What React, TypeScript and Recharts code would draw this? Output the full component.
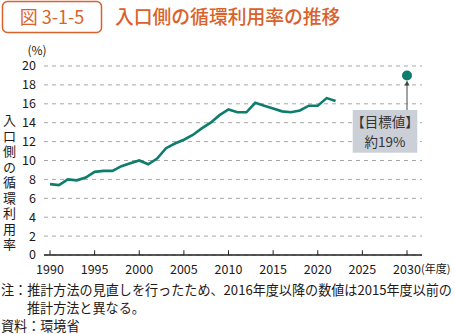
import React from 'react';
import { LineChart, Line, XAxis, YAxis, CartesianGrid, ReferenceLine, ReferenceDot } from 'recharts';

const years = [1990,1991,1992,1993,1994,1995,1996,1997,1998,1999,2000,2001,2002,2003,2004,2005,2006,2007,2008,2009,2010,2011,2012,2013,2014,2015,2016,2017,2018,2019,2020,2021,2022];
const rates = [7.5,7.4,8.0,7.9,8.2,8.8,8.9,8.9,9.4,9.7,10.0,9.6,10.2,11.3,11.8,12.2,12.7,13.4,14.0,14.8,15.4,15.1,15.1,16.1,15.8,15.5,15.2,15.1,15.3,15.8,15.8,16.6,16.3];
const xTicks = [1990,1995,2000,2005,2010,2015,2020,2025,2030];
const yTicks = [0,2,4,6,8,10,12,14,16,18,20];
const targetYears = [2030];
const targetValues = [19];
const yLabel = '入口側の循環利用率';

const data = years.map((y, i) => ({ year: y, rate: rates[i] }));

const FONT = '"Noto Sans CJK JP", "Noto Sans", sans-serif';
const TEXT = '#231815';
const GREEN = '#0e7d6b';
const ORANGE = '#d9622b';

const XTick = (props: any) => {
  const { x, y, payload } = props;
  const v = payload.value;
  return (
    <g>
      <text x={x} y={y} dy="0.71em" textAnchor="middle" fontSize={12.5} fill={TEXT} fontFamily={FONT}>{v}</text>
      {v === 2030 && (
        <text x={x + 14} y={y} dy="0.75em" textAnchor="start" fontSize={11} fill={TEXT} fontFamily={FONT}>(年度)</text>
      )}
    </g>
  );
};

export default function App() {
  return (
    <div style={{ position: 'absolute', left: 0, top: 0, width: 455, height: 334, background: '#fff' }}>
      <LineChart width={455} height={334} data={data} margin={{ top: 66, right: 33, bottom: 49, left: 0 }}>
        <CartesianGrid horizontal vertical={false} stroke="#a8a8a8" strokeDasharray="4 4" />
        <XAxis
          dataKey="year"
          type="number"
          domain={[1990, 2030]}
          ticks={xTicks}
          padding={{ left: 6, right: 15 }}
          axisLine={{ stroke: '#222', strokeWidth: 1.6 }}
          tickLine={false}
          tickMargin={4}
          height={30}
          tick={<XTick />}
          interval={0}
          allowDataOverflow
        />
        <YAxis
          type="number"
          domain={[0, 20]}
          ticks={yTicks}
          width={44}
          axisLine={false}
          tickLine={false}
          tickMargin={2}
          interval={0}
          tick={{ fontSize: 12.5, fill: TEXT, fontFamily: FONT }}
        />
        {xTicks.map((t) => (
          <ReferenceLine key={t} segment={[{ x: t, y: 0 }, { x: t, y: 0.5 }]} stroke="#222" strokeWidth={1} />
        ))}
        <Line dataKey="rate" stroke={GREEN} strokeWidth={2.6} dot={false} isAnimationActive={false} />
        {targetYears.map((t, i) => (
          <ReferenceDot key={t} x={t} y={targetValues[i]} r={5} fill={GREEN} stroke="none" ifOverflow="visible" />
        ))}
      </LineChart>
      <svg width={455} height={334} style={{ position: 'absolute', left: 0, top: 0, pointerEvents: 'none' }} fontFamily={FONT}>
        <rect x={2.5} y={1.5} width={99} height={31} rx={5} ry={5} fill="#fff" stroke={ORANGE} strokeWidth={1.5} />
        <text x={52} y={24} textAnchor="middle" fontSize={18} fill={ORANGE}>図 3-1-5</text>
        <text x={115} y={24} fontSize={18.8} fill={ORANGE} fontWeight={500}>入口側の循環利用率の推移</text>
        <text x={37} y={55} textAnchor="middle" fontSize={12} fill={TEXT}>(%)</text>
        <line x1={407} y1={110} x2={407} y2={84} stroke="#666" strokeWidth={1.2} />
        <polygon points="407,80.5 404.5,85.5 409.5,85.5" fill="#444" />
        <rect x={352.7} y={110} width={64.6} height={42.7} fill="#cbd0d8" />
        <text x={385} y={127} textAnchor="middle" fontSize={13.5} fill="#333">【目標値】</text>
        <text x={385} y={147} textAnchor="middle" fontSize={13.5} fill="#333">約19%</text>
        <text x={9.5} y={114} fontSize={13} letterSpacing={2.5} fill={TEXT} style={{ writingMode: 'vertical-rl', textOrientation: 'upright' } as any}>{yLabel}</text>
        <text x={1} y={295} fontSize={13.1} fill={TEXT}>注：推計方法の見直しを行ったため、2016年度以降の数値は2015年度以前の</text>
        <text x={27} y={313} fontSize={13.1} fill={TEXT}>推計方法と異なる。</text>
        <text x={1} y={331} fontSize={13.1} fill={TEXT}>資料：環境省</text>
      </svg>
    </div>
  );
}
